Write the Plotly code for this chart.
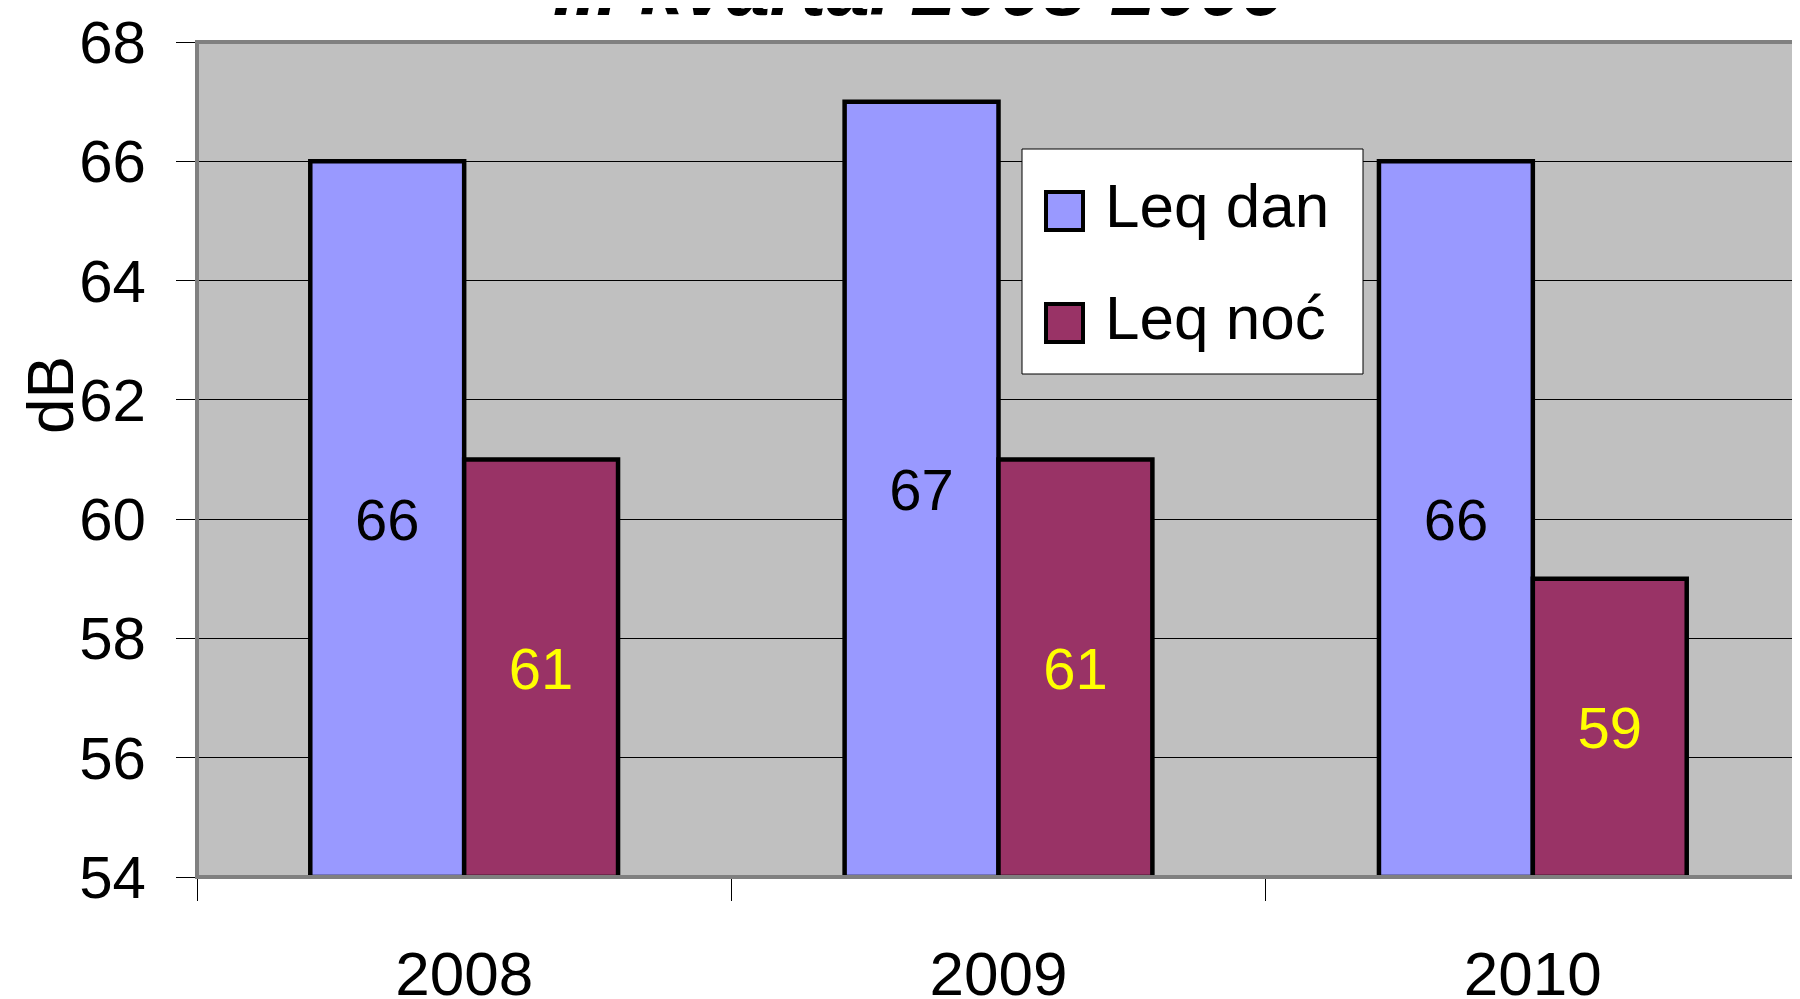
import plotly.graph_objects as go

# ---- data ----
years = ["2008", "2009", "2010"]
leq_dan = [66, 67, 66]
leq_noc = [61, 61, 59]
series_names = ["Leq dan", "Leq noć"]
y_min, y_max = 54, 68
y_ticks = [54, 56, 58, 60, 62, 64, 66, 68]
title_text = "III kvartal 2008-2009"
y_title = "dB"

# ---- styling / geometry ----
OFF = 8                      # page body margin offset of the figure
W, H = 1800 - OFF, 999 - OFF
L, R, T, B = 189, 0, 34, 122
PW, PH = W - L - R, H - T - B
FONT = "Liberation Sans"
C_DAN = "#9999FF"
C_NOC = "#993366"


def px(x):
    """screen x -> paper x"""
    return (x - OFF - L) / PW


def py(y):
    """screen y -> paper y"""
    return (H - B - (y - OFF)) / PH


fig = go.Figure()
# bars start at the axis floor (as in the original chart)
fig.add_trace(go.Bar(
    x=years, y=[v - y_min for v in leq_dan], base=[y_min] * len(leq_dan),
    name=series_names[0],
    marker=dict(color=C_DAN, line=dict(color="black", width=4.5)),
    text=[str(v) for v in leq_dan], textposition="inside",
    insidetextanchor="middle", textangle=0,
    textfont=dict(family=FONT, size=58, color="black"),
))
fig.add_trace(go.Bar(
    x=years, y=[v - y_min for v in leq_noc], base=[y_min] * len(leq_noc),
    name=series_names[1],
    marker=dict(color=C_NOC, line=dict(color="black", width=4.5)),
    text=[str(v) for v in leq_noc], textposition="inside",
    insidetextanchor="middle", textangle=0,
    textfont=dict(family=FONT, size=58, color="#FFFF00"),
))

shapes = [
    # plot frame (gray shadow border)
    dict(type="rect", xref="paper", yref="paper", x0=0, x1=1.01, y0=0, y1=1,
         line=dict(color="#808080", width=4), fillcolor="rgba(0,0,0,0)", layer="above"),
    # legend box
    dict(type="rect", xref="paper", yref="paper",
         x0=px(1022), x1=px(1363), y0=py(374), y1=py(149),
         line=dict(color="black", width=1), fillcolor="white", layer="above"),
    # legend swatches
    dict(type="rect", xref="paper", yref="paper",
         x0=px(1046), x1=px(1083), y0=py(230), y1=py(192),
         line=dict(color="black", width=4), fillcolor=C_DAN, layer="above"),
    dict(type="rect", xref="paper", yref="paper",
         x0=px(1046), x1=px(1083), y0=py(342), y1=py(304),
         line=dict(color="black", width=4), fillcolor=C_NOC, layer="above"),
]

annotations = [
    dict(text=f"<b><i>{title_text}</i></b>", xref="paper", yref="paper",
         x=px(920), y=py(-12), xanchor="center", yanchor="middle",
         showarrow=False, font=dict(family=FONT, size=78, color="black")),
    dict(text=y_title, xref="paper", yref="paper", x=px(51), y=py(395),
         xanchor="center", yanchor="middle", textangle=-90, showarrow=False,
         font=dict(family=FONT, size=64, color="black")),
    dict(text=series_names[0], xref="paper", yref="paper", x=px(1103), y=py(205),
         xanchor="left", yanchor="middle", showarrow=False,
         font=dict(family=FONT, size=62, color="black")),
    dict(text=series_names[1], xref="paper", yref="paper", x=px(1103), y=py(318),
         xanchor="left", yanchor="middle", showarrow=False,
         font=dict(family=FONT, size=62, color="black")),
]

fig.update_layout(
    width=W, height=H,
    margin=dict(l=L, r=R, t=T, b=B, pad=0, autoexpand=False),
    paper_bgcolor="white", plot_bgcolor="#C0C0C0",
    barmode="group", bargap=0.424, bargroupgap=0,
    showlegend=False,
    shapes=shapes, annotations=annotations,
    font=dict(family=FONT, color="black"),
    uniformtext=dict(minsize=10, mode="show"),
)
fig.update_xaxes(
    type="category", tickson="boundaries", ticks="outside", ticklen=22,
    tickcolor="black", tickwidth=1, showgrid=False,
    showline=True, linecolor="#404040", linewidth=2,
    tickfont=dict(family=FONT, size=62, color="black"),
    ticklabelstandoff=42, automargin=False,
)
fig.update_yaxes(
    range=[y_min, y_max], tickvals=y_ticks, ticktext=[str(v) for v in y_ticks],
    ticks="outside", ticklen=19, tickcolor="black", tickwidth=1,
    showgrid=True, gridcolor="black", gridwidth=1,
    showline=True, linecolor="black", linewidth=2,
    zeroline=False,
    tickfont=dict(family=FONT, size=60, color="black"),
    ticklabelstandoff=18, automargin=False,
)

fig.write_html("out.html")
